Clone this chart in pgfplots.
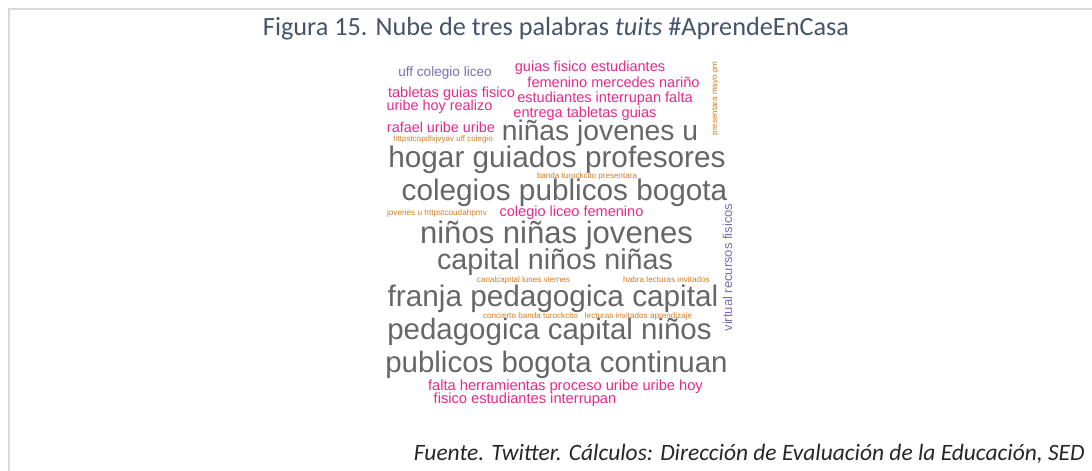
\documentclass[border=0pt]{standalone}
\usepackage{fontspec}
\setmainfont{Carlito}
\newfontfamily\wordfont{Liberation Sans}
\usepackage{pgfplots}
\pgfplotsset{compat=1.18}
\usepackage{pgfplotstable}

\definecolor{wgray}{HTML}{666666}
\definecolor{wpink}{HTML}{E7298A}
\definecolor{wpurple}{HTML}{7570B3}
\definecolor{worange}{RGB}{210,124,36}
\definecolor{titlecol}{HTML}{44546A}
\definecolor{framecol}{RGB}{217,217,217}
\definecolor{srccol}{RGB}{38,38,38}

% x = horizontal centre (px), y = baseline (px from top), s = font size (pt), r = rotation
\pgfplotstableread[col sep=comma]{
x,y,s,r,w
600,140,21.2,0,niñas jovenes u
557,167,22.3,0,hogar guiados profesores
564.5,200,22.3,0,colegios publicos bogota
556.5,243,23.3,0,niños niñas jovenes
555,269,21.5,0,capital niños niñas
553,306,22.3,0,franja pedagogica capital
549.5,339,22.1,0,pedagogica capital niños
556.5,372,22.1,0,publicos bogota continuan
}\graywords

\pgfplotstableread[col sep=comma]{
x,y,s,r,w
590,71,10.9,0,guias fisico estudiantes
613.5,87,10.9,0,femenino mercedes nariño
451.5,97,10.9,0,tabletas guias fisico
605,102,10.9,0,estudiantes interrupan falta
439.5,110.5,10.8,0,uribe hoy realizo
585,117,10.9,0,entrega tabletas guias
441,132.5,10.8,0,rafael uribe uribe
571.5,216,10.9,0,colegio liceo femenino
565.5,390,11.0,0,falta herramientas proceso uribe uribe hoy
525,403,11.0,0,fisico estudiantes interrupan
}\pinkwords

\pgfplotstableread[col sep=comma]{
x,y,s,r,w
445,76,10.2,0,uff colegio liceo
732,267.5,9.75,90,virtual recursos fisicos
}\purplewords

\pgfplotstableread[col sep=comma]{
x,y,s,r,w
443,141,6.0,0,httpstcopdlxjvyav uff colegio
717,98.5,6.0,90,presentara mayo pm
587,178,6.05,0,banda turockcito presentara
437,215,6.15,0,jovenes u httpstcoudahpmv
523.5,282,6.1,0,canalcapital lunes viernes
666.5,282,6.15,0,habra lecturas invitados
530.5,318.5,6.1,0,concierto banda turockcito
638.5,318.5,6.1,0,lecturas invitados aprendizaje
}\orangewords

\pgfplotsset{
  wordcloud/.style={
    only marks, mark=none,
    point meta=explicit symbolic,
    nodes near coords,
    visualization depends on={\thisrow{s} \as \wcsize},
    visualization depends on={\thisrow{r} \as \wcrot},
    every node near coord/.append style={
      anchor=base, inner sep=0pt, outer sep=0pt,
      rotate=\wcrot, text=#1,
      font=\wordfont\fontsize{\wcsize pt}{\wcsize pt}\selectfont},
  },
}

\begin{document}
\begin{tikzpicture}
\path[use as bounding box] (0,0) rectangle (819pt,353.25pt);
\begin{axis}[
  at={(0,0)}, anchor=south west,
  width=819pt, height=353.25pt, scale only axis,
  xmin=0, xmax=1092, ymin=0, ymax=471, y dir=reverse,
  hide axis, clip=false,
]
\draw[framecol, line width=1.5pt] (axis cs:8.5,471) -- (axis cs:8.5,8.5) -- (axis cs:1092,8.5);

\addplot[wordcloud=wgray] table[x=x, y=y, meta=w] {\graywords};
\addplot[wordcloud=wpink] table[x=x, y=y, meta=w] {\pinkwords};
\addplot[wordcloud=wpurple] table[x=x, y=y, meta=w] {\purplewords};
\addplot[wordcloud=worange] table[x=x, y=y, meta=w] {\orangewords};

\node[anchor=base, inner sep=0pt, text=titlecol, font=\fontsize{19.7}{22}\selectfont]
  at (axis cs:556,36) {Figura 15. Nube de tres palabras \textit{tuits} \#AprendeEnCasa};
\node[anchor=base east, inner sep=0pt, text=srccol, font=\fontsize{17.6}{20}\selectfont\itshape]
  at (axis cs:1085,460) {Fuente. Twitter. Cálculos: Dirección de Evaluación de la Educación, SED};
\end{axis}
\end{tikzpicture}
\end{document}
